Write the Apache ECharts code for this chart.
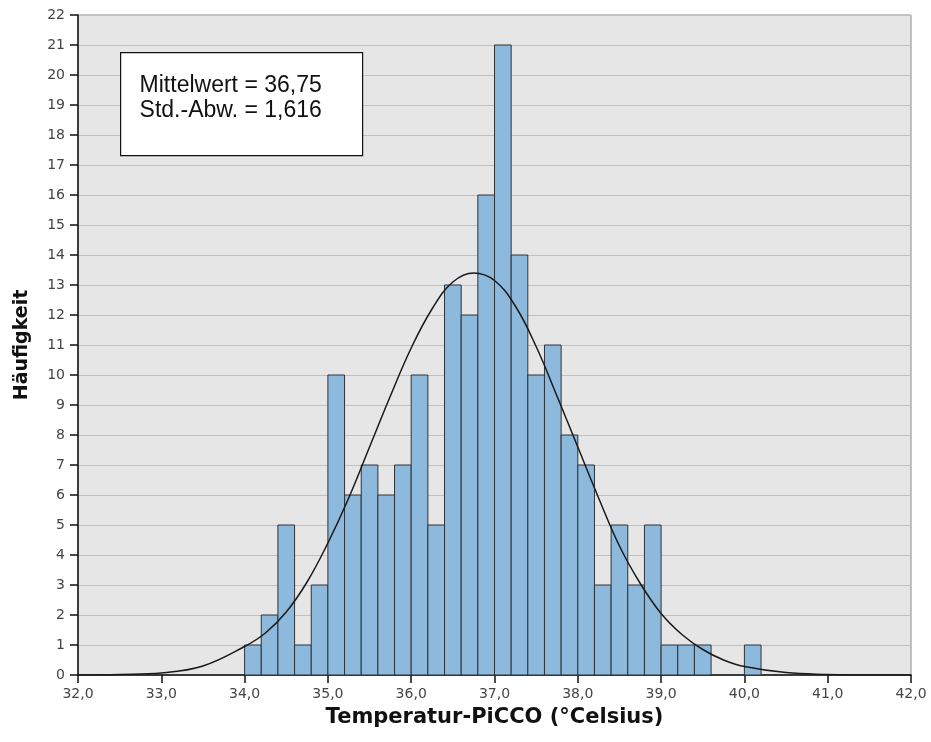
<!DOCTYPE html>
<html>
<head>
<meta charset="utf-8">
<script src="https://cdn.jsdelivr.net/npm/echarts@6/dist/echarts.min.js"></script>
<style>
  html, body { margin: 0; padding: 0; background: #fff; }
  #chart { width: 931px; height: 742px; }
</style>
</head>
<body>
<div id="chart"></div>
<script>
// Histogram of PiCCO temperature readings, bin width 0.2 °C
const binStarts = [34.0, 34.2, 34.4, 34.6, 34.8, 35.0, 35.2, 35.4, 35.6, 35.8,
                   36.0, 36.2, 36.4, 36.6, 36.8, 37.0, 37.2, 37.4, 37.6, 37.8,
                   38.0, 38.2, 38.4, 38.6, 38.8, 39.0, 39.2, 39.4, 39.6, 39.8, 40.0];
const binCounts = [1, 2, 5, 1, 3, 10, 6, 7, 6, 7,
                   10, 5, 13, 12, 16, 21, 14, 10, 11, 8,
                   7, 3, 5, 3, 5, 1, 1, 1, 0, 0, 1];
const binWidth = 0.2;

// Fitted normal curve, sampled along the temperature axis
const curveX = [32.0, 32.5, 33.0, 33.5, 34.0, 34.25, 34.5, 34.75, 35.0, 35.25,
                35.5, 35.75, 36.0, 36.25, 36.5, 36.75, 37.0, 37.25, 37.5, 37.75,
                38.0, 38.25, 38.5, 38.75, 39.0, 39.25, 39.5, 39.75, 40.0, 40.5,
                41.0, 41.5, 42.0];
const curveY = [0.0, 0.02, 0.07, 0.3, 0.95, 1.4, 2.1, 3.1, 4.4, 5.9,
                7.6, 9.3, 10.9, 12.2, 13.1, 13.4, 13.15, 12.3, 10.95, 9.3,
                7.6, 5.9, 4.3, 3.05, 2.05, 1.35, 0.85, 0.5, 0.28, 0.08,
                0.02, 0.0, 0.0];

// Summary statistics shown in the box
const statLines = ['Mittelwert = 36,75', 'Std.-Abw. = 1,616'];

const xTitle = 'Temperatur-PiCCO (°Celsius)';
const yTitle = 'Häufigkeit';

const chart = echarts.init(document.getElementById('chart'), null, { renderer: 'canvas' });

const tickFont = { fontFamily: 'DejaVu Sans', fontSize: 14, color: '#444' };

chart.setOption({
  animation: false,
  backgroundColor: '#ffffff',
  grid: {
    left: 78, right: 20, top: 15, bottom: 67,
    show: true,
    backgroundColor: '#e6e6e6',
    borderColor: '#8a8a8a',
    borderWidth: 1
  },
  xAxis: {
    type: 'value',
    min: 32, max: 42, interval: 1,
    name: xTitle,
    nameLocation: 'middle',
    nameGap: 32,
    nameTextStyle: { fontFamily: 'DejaVu Sans', fontWeight: 'bold', fontSize: 21, color: '#111' },
    axisLine: { show: true, onZero: false, lineStyle: { color: '#111', width: 1.5 } },
    axisTick: { show: true, length: 8, lineStyle: { color: '#111', width: 1.5 } },
    axisLabel: Object.assign({ margin: 12, formatter: v => v.toFixed(1).replace('.', ',') }, tickFont),
    splitLine: { show: false }
  },
  yAxis: {
    type: 'value',
    min: 0, max: 22, interval: 1,
    name: yTitle,
    nameLocation: 'middle',
    nameGap: 46,
    nameRotate: 90,
    nameTextStyle: { fontFamily: 'DejaVu Sans', fontWeight: 'bold', fontSize: 19, color: '#111' },
    axisLine: { show: true, lineStyle: { color: '#111', width: 1.5 } },
    axisTick: { show: true, length: 8, lineStyle: { color: '#111', width: 1.5 } },
    axisLabel: Object.assign({ margin: 13 }, tickFont),
    splitLine: { show: true, lineStyle: { color: '#c0c0c0', width: 1.2 } }
  },
  series: [
    {
      type: 'custom',
      name: 'Häufigkeit',
      data: binStarts.map((s, i) => [s, s + binWidth, binCounts[i]]),
      encode: { x: [0, 1], y: 2 },
      renderItem: function (params, api) {
        const count = api.value(2);
        if (!count) return null;
        const p0 = api.coord([api.value(0), 0]);
        const p1 = api.coord([api.value(1), count]);
        return {
          type: 'rect',
          shape: { x: p0[0], y: p1[1], width: p1[0] - p0[0], height: p0[1] - p1[1] },
          style: { fill: '#8db9dd', stroke: '#2e3338', lineWidth: 1 }
        };
      },
      z: 2
    },
    {
      type: 'line',
      name: 'Normal',
      data: curveX.map((x, i) => [x, curveY[i]]),
      smooth: 0.4,
      showSymbol: false,
      lineStyle: { color: '#1a1a1a', width: 1.5 },
      z: 3
    }
  ],
  graphic: [
    {
      type: 'group',
      left: 120, top: 52,
      z: 100,
      children: [
        {
          type: 'rect',
          z: 100,
          shape: { x: 0, y: 0, width: 242, height: 103 },
          style: { fill: '#ffffff', stroke: '#111', lineWidth: 1.2 }
        },
        {
          type: 'text',
          z: 101,
          left: 19, top: 21,
          style: {
            text: statLines.join('\n'),
            font: '23px "Liberation Sans", Arial, sans-serif',
            lineHeight: 25,
            fill: '#111'
          }
        }
      ]
    }
  ]
});
</script>
</body>
</html>
